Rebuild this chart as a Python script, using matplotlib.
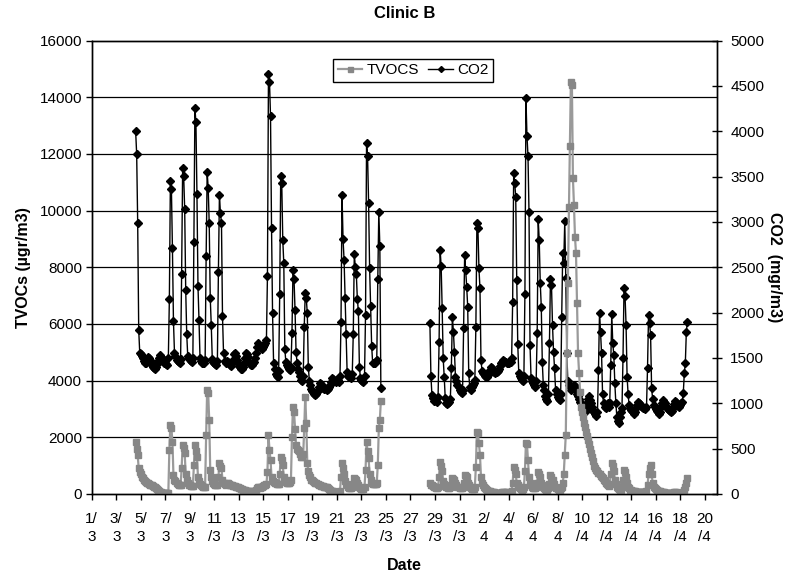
import matplotlib
matplotlib.use("Agg")  # no display
import matplotlib.pyplot as plt  # noqa: E402
import pandas as pd  # noqa: E402

plt.rcParams["font.family"] = ["Liberation Sans", "DejaVu Sans"]

# ── Data (2-hourly readings) ──────────────────────────────────────────────────
seg1_start = "2008-03-04 14:00"
seg2_start = "2008-03-28 14:00"
step = "2h"

co2_seg1 = [
    4000, 3750, 2990, 1810, 1560,                                        # 4/3
    1540, 1520, 1500, 1470, 1450, 1440, 1470, 1510, 1500, 1480, 1450, 1420,  # 5/3
    1400, 1390, 1380, 1400, 1430, 1470, 1500, 1530, 1510, 1500, 1470, 1450,  # 6/3
    1440, 1430, 1420, 1500, 2147, 3453, 3366, 2710, 1908, 1560, 1520, 1480,  # 7/3
    1470, 1460, 1450, 1490, 2423, 3593, 3512, 3140, 2250, 1761, 1520, 1500,  # 8/3
    1480, 1470, 1460, 1500, 2784, 4254, 4100, 3309, 2295, 1920, 1500, 1470,  # 9/3
    1450, 1440, 1440, 1480, 2625, 3548, 3379, 2986, 2166, 1865, 1490, 1460,  # 10/3
    1440, 1430, 1420, 1470, 2453, 3298, 3096, 2993, 1964, 1560, 1470, 1450,  # 11/3
    1470, 1460, 1440, 1420, 1410, 1440, 1480, 1540, 1560, 1520, 1480, 1440,  # 12/3
    1410, 1400, 1380, 1380, 1400, 1450, 1500, 1560, 1540, 1510, 1460, 1430,  # 13/3
    1420, 1420, 1440, 1460, 1500, 1560, 1620, 1660, 1640, 1620, 1610, 1600,  # 14/3
    1620, 1640, 1660, 1700, 2405, 4629, 4548, 4169, 2938, 1993, 1450, 1380,  # 15/3
    1320, 1300, 1290, 1360, 2207, 3511, 3427, 2802, 2545, 1600, 1460, 1420,  # 16/3
    1400, 1380, 1370, 1400, 1780, 2471, 2372, 2030, 1570, 1442, 1380, 1340,  # 17/3
    1300, 1260, 1250, 1300, 1846, 2214, 2159, 1993, 1400, 1250, 1200, 1160,  # 18/3
    1140, 1120, 1100, 1090, 1100, 1140, 1180, 1220, 1210, 1190, 1170, 1160,  # 19/3
    1170, 1160, 1150, 1160, 1180, 1200, 1240, 1280, 1270, 1260, 1250, 1240,  # 20/3
    1250, 1260, 1240, 1300, 1901, 3298, 2809, 2581, 2166, 1761, 1340, 1300,  # 21/3
    1290, 1300, 1280, 1320, 1765, 2643, 2508, 2423, 2147, 2019, 1400, 1280,  # 22/3
    1260, 1250, 1240, 1300, 1975, 3868, 3728, 3213, 2489, 2074, 1633, 1440,  # 23/3
    1440, 1450, 1470, 1480, 2368, 3113, 2740, 1169,                          # 24/3
]

tvoc_seg1 = [
    1847, 1600, 1377, 900, 788,
    700, 612, 560, 500, 460, 420, 400, 376, 350, 330, 310, 300,
    280, 259, 230, 200, 170, 150, 110, 82, 60, 50, 35, 24,
    20, 20, 30, 40, 1553, 2436, 2318, 1847, 670, 500, 450, 400,
    350, 320, 300, 300, 906, 1730, 1612, 1436, 700, 500, 400, 320,
    300, 280, 270, 280, 1024, 1730, 1500, 1318, 600, 450, 350, 300,
    280, 250, 240, 260, 2083, 3671, 3554, 2612, 847, 600, 450, 400,
    350, 300, 300, 320, 600, 1083, 1000, 900, 500, 400, 350, 300,
    400, 380, 360, 330, 310, 300, 290, 280, 270, 260, 250, 240,
    220, 200, 185, 170, 155, 140, 130, 120, 110, 100, 95, 90,
    85, 80, 85, 90, 110, 150, 200, 260, 240, 220, 230, 250,
    270, 300, 320, 350, 788, 2083, 1553, 1200, 600, 450, 420, 400,
    380, 350, 340, 360, 700, 1318, 1200, 1024, 600, 500, 420, 380,
    380, 400, 420, 500, 2024, 3083, 2907, 2300, 1730, 1600, 1553, 1500,
    1400, 1318, 1300, 1400, 2318, 3435, 2500, 1083, 800, 670, 600, 500,
    480, 450, 430, 400, 380, 350, 330, 300, 290, 280, 270, 260,
    250, 240, 230, 220, 180, 150, 120, 100, 90, 80, 70, 60,
    55, 50, 50, 100, 600, 1083, 900, 700, 450, 350, 300, 250,
    220, 200, 200, 250, 350, 550, 520, 494, 400, 300, 250, 200,
    190, 180, 180, 250, 847, 1847, 1500, 1259, 700, 500, 400, 350,
    340, 350, 360, 400, 1024, 2318, 2612, 3282,
]

co2_seg2 = [
    1889, 1301, 1090, 1060, 1024,                                            # 28/3
    1040, 1030, 1010, 1070, 1681, 2691, 2519, 2049, 1497, 1295, 1060, 1000,  # 29/3
    990, 1000, 1010, 1050, 1387, 1956, 1791, 1571, 1295, 1250, 1200, 1180,   # 30/3
    1150, 1120, 1114, 1150, 1828, 2636, 2471, 2287, 2067, 1331, 1180, 1150,  # 31/3
    1180, 1200, 1220, 1260, 1846, 2985, 2929, 2489, 2269, 1478, 1360, 1330,  # 1/4
    1320, 1300, 1290, 1290, 1310, 1340, 1370, 1400, 1390, 1370, 1350, 1330,  # 2/4
    1340, 1350, 1360, 1380, 1410, 1440, 1460, 1480, 1470, 1460, 1450, 1440,  # 3/4
    1450, 1470, 1460, 1500, 2122, 3543, 3433, 3279, 2361, 1651, 1330, 1300,  # 4/4
    1280, 1260, 1250, 1300, 2206, 4364, 3952, 3731, 3107, 1643, 1280, 1250,  # 5/4
    1220, 1200, 1180, 1250, 1773, 3030, 2802, 2331, 2067, 1460, 1200, 1150,  # 6/4
    1080, 1050, 1030, 1100, 1662, 2368, 2305, 1864, 1570, 1387, 1150, 1100,  # 7/4
    1070, 1050, 1040, 1100, 1956, 2662, 2551, 3011, 2379, 1552, 1250, 1200,  # 8/4
    1180, 1150, 1170, 1190, 1200, 1188, 1150, 1100, 1080, 1050, 1020, 1000,  # 9/4
    980, 950, 920, 900, 930, 1000, 1050, 1080, 1040, 1000, 960, 920,         # 10/4
    900, 880, 860, 900, 1368, 1993, 1791, 1552, 1100, 1000, 960, 950,        # 11/4
    980, 1000, 960, 1000, 1424, 1985, 1662, 1534, 1222, 1000, 850, 800,      # 12/4
    780, 850, 900, 950, 1497, 2275, 2184, 1864, 1295, 1100, 980, 950,        # 13/4
    930, 920, 900, 880, 900, 950, 980, 1010, 1000, 990, 970, 960,            # 14/4
    950, 950, 940, 960, 1387, 1974, 1882, 1754, 1166, 1050, 980, 960,        # 15/4
    940, 920, 900, 880, 900, 960, 1000, 1040, 1020, 1000, 970, 950,          # 16/4
    940, 930, 910, 900, 920, 950, 990, 1030, 1010, 990, 970, 960,            # 17/4
    980, 1000, 1020, 1111, 1331, 1442, 1791, 1900,                           # 18/4
]

tvoc_seg2 = [
    376, 330, 300, 270, 250,
    230, 200, 200, 250, 600, 1141, 1000, 800, 450, 350, 280, 250,
    240, 220, 220, 250, 300, 553, 520, 494, 400, 300, 250, 230,
    220, 200, 200, 250, 400, 670, 640, 600, 400, 300, 230, 200,
    190, 180, 180, 250, 965, 2200, 2141, 1788, 1377, 600, 400, 300,
    250, 200, 170, 150, 120, 100, 90, 80, 70, 60, 55, 50,
    45, 40, 35, 30, 40, 50, 65, 80, 70, 60, 55, 50,
    50, 50, 60, 100, 400, 941, 847, 700, 400, 300, 250, 200,
    170, 150, 160, 250, 800, 1800, 1765, 1200, 600, 400, 300, 250,
    220, 200, 210, 250, 400, 788, 700, 600, 400, 300, 250, 200,
    170, 150, 150, 200, 350, 670, 600, 500, 350, 250, 220, 200,
    170, 150, 150, 200, 250, 376, 700, 1377, 2083, 4966, 7437, 10141,
    12283, 14553, 14436, 11143, 10201, 9083, 8495, 6731, 4966, 4260, 3600, 3084,
    2900, 2700, 2500, 2350, 2200, 2050, 1906, 1750, 1600, 1450, 1300, 1150,
    1000, 900, 850, 800, 750, 700, 650, 600, 550, 500, 450, 400,
    350, 300, 280, 350, 700, 1083, 1000, 800, 500, 350, 250, 200,
    180, 150, 150, 250, 500, 847, 788, 600, 400, 250, 200, 150,
    130, 120, 110, 100, 90, 80, 75, 70, 65, 60, 60, 60,
    60, 60, 60, 100, 300, 700, 900, 1024, 700, 400, 250, 200,
    170, 150, 120, 100, 90, 80, 70, 60, 55, 50, 50, 50,
    45, 40, 40, 40, 45, 50, 55, 60, 55, 50, 45, 40,
    40, 40, 50, 80, 150, 250, 400, 580,
]

tick_dates = pd.date_range("2008-03-01", "2008-04-20", freq="2D")
tvoc_ticks = list(range(0, 16001, 2000))
co2_ticks = list(range(0, 5001, 500))

# ── Figure ────────────────────────────────────────────────────────────────────
fig = plt.figure(figsize=(7.92, 5.76), dpi=100)
ax = fig.add_axes([0.1158, 0.1424, 0.7895, 0.787])
ax2 = ax.twinx()

# TVOC series sits above the CO2 one, gridlines below both
ax.set_zorder(2)
ax2.set_zorder(1)
ax.patch.set_visible(False)

co2_style = dict(color="black", lw=1.0, marker="D", ms=3.8, mec="black", mfc="black")
tvoc_style = dict(color="#9a9a9a", lw=1.6, marker="s", ms=4.5, mec="#878787", mfc="#878787")

ax2.plot(pd.date_range(seg1_start, periods=len(co2_seg1), freq=step), co2_seg1,
         label="CO2", **co2_style)
ax2.plot(pd.date_range(seg2_start, periods=len(co2_seg2), freq=step), co2_seg2,
         **co2_style)
ax.plot(pd.date_range(seg1_start, periods=len(tvoc_seg1), freq=step), tvoc_seg1,
        label="TVOCS", **tvoc_style)
ax.plot(pd.date_range(seg2_start, periods=len(tvoc_seg2), freq=step), tvoc_seg2,
        **tvoc_style)

for v in tvoc_ticks[1:-1]:
    ax2.axhline(v * co2_ticks[-1] / tvoc_ticks[-1], color="black", lw=0.9, zorder=0)

ax.set_xlim(pd.Timestamp("2008-03-01"), pd.Timestamp("2008-04-21"))
ax.set_ylim(0, 16000)
ax2.set_ylim(0, 5000)
ax.set_yticks(tvoc_ticks)
ax2.set_yticks(co2_ticks)

labels = []
for d in tick_dates:
    s = f"{d.day}/{d.month}"
    labels.append(s[:2] + "\n" + s[2:])
ax.set_xticks(tick_dates)
ax.set_xticklabels(labels, linespacing=1.35)

ax.tick_params(axis="x", direction="out", length=4, width=1, pad=9, labelsize=11)
ax.tick_params(axis="y", direction="out", length=4, width=1, pad=3, labelsize=11)
ax2.tick_params(axis="y", direction="inout", length=7, width=1, pad=6, labelsize=11)

for a in (ax, ax2):
    for sp in a.spines.values():
        sp.set_color("black")
        sp.set_linewidth(1.0)

ax.set_title("Clinic B", fontsize=12, fontweight="bold", pad=16)
ax.set_xlabel("Date", fontsize=11.5, fontweight="bold", labelpad=10)
ax.set_ylabel("TVOCs (µgr/m3)", fontsize=11.5, fontweight="bold", labelpad=6)
ax2.set_ylabel("CO2  (mgr/m3)", fontsize=11.5, fontweight="bold", rotation=270,
               labelpad=13)

h1, l1 = ax.get_legend_handles_labels()
h2, l2 = ax2.get_legend_handles_labels()
leg = ax.legend(h1 + h2, l1 + l2, loc="upper left", bbox_to_anchor=(0.386, 0.96),
                ncol=2, fontsize=11, frameon=True, fancybox=False, borderaxespad=0,
                handlelength=1.6, handletextpad=0.3, columnspacing=0.6,
                borderpad=0.3, markerscale=0.8)
leg.get_frame().set_edgecolor("black")
leg.get_frame().set_linewidth(1.0)
leg.get_frame().set_alpha(1)

fig.savefig("out.png", dpi=100)
